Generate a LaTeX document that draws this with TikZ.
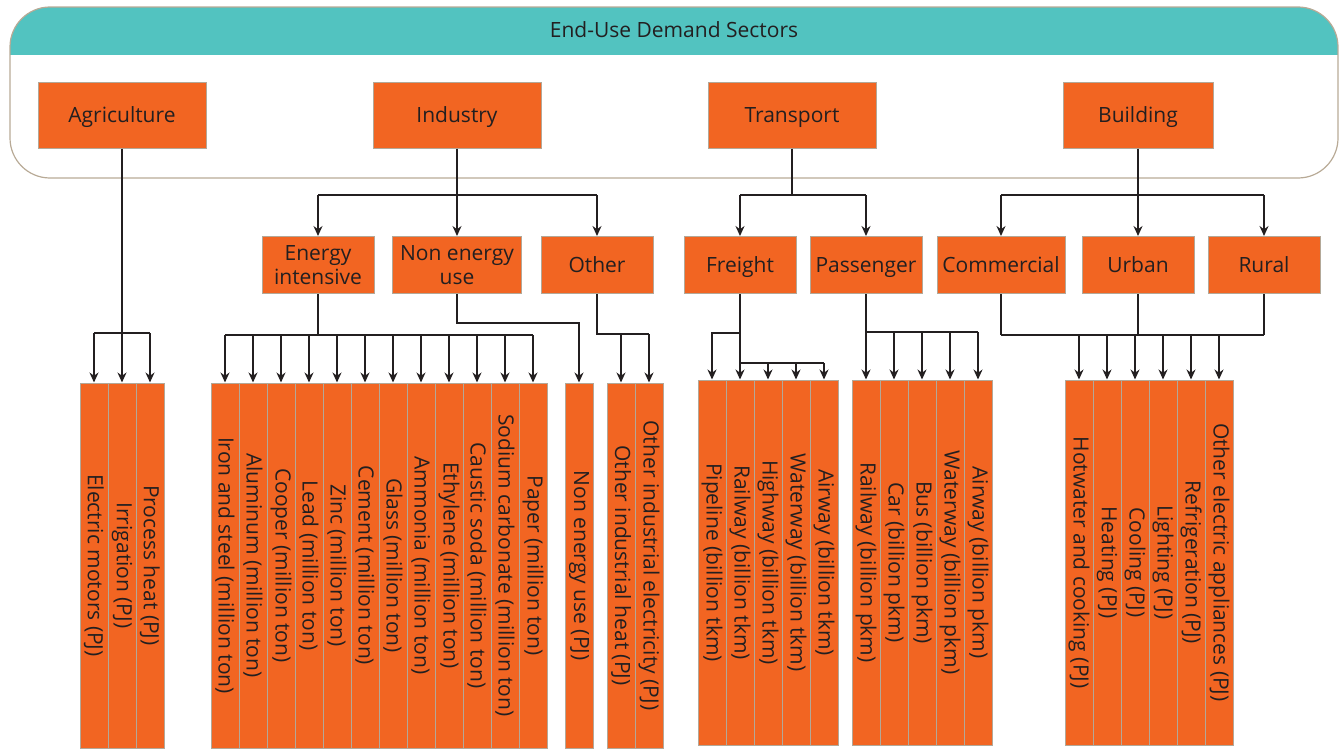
\documentclass[tikz,border=0pt]{standalone}
\usepackage{fontspec}
\setmainfont{Open Sans}
\usetikzlibrary{arrows.meta}
\definecolor{ink}{HTML}{231F20}
\definecolor{sectorfill}{HTML}{F26522}
\definecolor{boxline}{HTML}{B3A898}
\definecolor{headfill}{HTML}{52C3C0}
\definecolor{frameline}{HTML}{B8AA96}
\tikzset{>={Stealth[length=10pt,width=9pt]},
  every node/.style={font=\fontsize{21}{24}\selectfont,text=ink},
  boxbase/.style={draw=boxline,fill=sectorfill,line width=1pt,inner sep=0pt},
  sector/.style={boxbase,minimum width=168pt,minimum height=65pt,text height=15pt,text depth=0pt},
  branch/.style={boxbase,minimum width=112pt,minimum height=57pt,text height=15pt,text depth=0pt},
  tworow/.style={boxbase,minimum width=112pt,minimum height=57pt,align=center},
  leaf/.style={boxbase,rotate=-90,minimum width=365pt,minimum height=28pt},
  wire/.style={draw=ink,line width=1.3pt},
  link/.style={wire,->}}

\begin{document}
\begin{tikzpicture}[x=1pt,y=-1pt]
\useasboundingbox (0,0) rectangle (1340,749);
% frame with heading
\begin{scope}
\clip[rounded corners=40pt] (10,7) rectangle (1338,178);
\fill[headfill] (10,7) rectangle (1338,55);
\end{scope}
\draw[frameline,line width=1.2pt,rounded corners=40pt] (10,7) rectangle (1338,178);
\node (title) at (674,30) {End-Use Demand Sectors};

% sectors
\node[sector] (agri) at (122,115.5) {Agriculture};
\node[sector] (ind) at (457,115.5) {Industry};
\node[sector] (trans) at (792,115.5) {Transport};
\node[sector,minimum width=150pt] (bldg) at (1138,115.5) {Building};

% branches
\node[tworow] (energy) at (318,265) {Energy\\intensive};
\node[tworow,minimum width=129pt] (nonen) at (457,265) {Non energy\\use};
\node[branch] (other) at (597,265) {Other};
\node[branch] (freight) at (740,265) {Freight};
\node[branch] (pass) at (866,265) {Passenger};
\node[branch,minimum width=128pt] (comm) at (1001,265) {Commercial};
\node[branch] (urban) at (1138,265) {Urban};
\node[branch] (rural) at (1264,265) {Rural};

% leaves
\foreach \t [count=\i] in {Electric motors (PJ),Irrigation (PJ),Process heat (PJ)}
  \node[leaf] (agr\i) at ({66+28*\i},565.5) {\t};
\foreach \t [count=\i] in {Iron and steel (million ton),Aluminum (million ton),Cooper (million ton),Lead (million ton),Zinc (million ton),Cement (million ton),Glass (million ton),Ammonia (million ton),Ethylene (million ton),Caustic soda (million ton),Sodium carbonate (million ton),Paper (million ton)}
  \node[leaf] (ei\i) at ({197+28*\i},565.5) {\t};
\node[leaf] (neu) at (579,565.5) {Non energy use (PJ)};
\foreach \t [count=\i] in {Other industrial heat (PJ),Other industrial electricity (PJ)}
  \node[leaf] (oth\i) at ({593+28*\i},565.5) {\t};
\foreach \t [count=\i] in {Pipeline (billion tkm),Railway (billion tkm),Highway (billion tkm),Waterway (billion tkm),Airway (billion tkm)}
  \node[leaf] (fr\i) at ({684+28*\i},562.5) {\t};
\foreach \t [count=\i] in {Railway (billion pkm),Car (billion pkm),Bus (billion pkm),Waterway (billion pkm),Airway (billion pkm)}
  \node[leaf] (ps\i) at ({838+28*\i},562.5) {\t};
\foreach \t [count=\i] in {Hotwater and cooking (PJ),Heating (PJ),Cooling (PJ),Lighting (PJ),Refrigeration (PJ),Other electric appliances (PJ)}
  \node[leaf] (bl\i) at ({1051+28*\i},562.5) {\t};

% bus levels
\coordinate (topbus) at (0,195);
\coordinate (agribus) at (0,333);
\coordinate (eibus) at (0,335);
\coordinate (nebus) at (0,323);
\coordinate (obus) at (0,334);
\coordinate (frbus) at (0,333);
\coordinate (frbus2) at (0,363);
\coordinate (psbus) at (0,332);
\coordinate (blbus) at (0,335);

% agriculture
\draw[link] (agri.south) -- (agr2.west);
\draw[wire] (agr1.west |- agribus) -- (agr3.west |- agribus);
\foreach \i in {1,3} \draw[link] (agr\i.west |- agribus) -- (agr\i.west);

% industry
\draw[wire] (energy.north |- topbus) -- (other.north |- topbus);
\draw[link] (ind.south) -- (nonen.north);
\foreach \n in {energy,other} \draw[link] (\n.north |- topbus) -- (\n.north);
\draw[wire] (energy.south) -- (energy.south |- eibus);
\draw[wire] (ei1.west |- eibus) -- (ei12.west |- eibus);
\foreach \i in {1,...,12} \draw[link] (ei\i.west |- eibus) -- (ei\i.west);
\draw[link] (nonen.south) |- (neu.west |- nebus) -- (neu.west);
\draw[wire] (other.south) |- (oth2.west |- obus);
\foreach \i in {1,2} \draw[link] (oth\i.west |- obus) -- (oth\i.west);

% transport
\draw[wire] (trans.south) -- (trans.south |- topbus);
\draw[wire] (freight.north |- topbus) -- (pass.north |- topbus);
\foreach \n in {freight,pass} \draw[link] (\n.north |- topbus) -- (\n.north);
\draw[link] (freight.south) |- (fr1.west |- frbus) -- (fr1.west);
\draw[link] (freight.south) -- (fr2.west);
\draw[wire] (fr2.west |- frbus2) -- (fr5.west |- frbus2);
\foreach \i in {3,4,5} \draw[link] (fr\i.west |- frbus2) -- (fr\i.west);
\draw[link] (pass.south) -- (ps1.west);
\draw[wire] (ps1.west |- psbus) -- (ps5.west |- psbus);
\foreach \i in {2,...,5} \draw[link] (ps\i.west |- psbus) -- (ps\i.west);

% building
\draw[wire] (comm.north |- topbus) -- (rural.north |- topbus);
\draw[link] (bldg.south) -- (urban.north);
\foreach \n in {comm,rural} \draw[link] (\n.north |- topbus) -- (\n.north);
\foreach \n in {comm,urban,rural} \draw[wire] (\n.south) -- (\n.south |- blbus);
\draw[wire] (comm.south |- blbus) -- (rural.south |- blbus);
\foreach \i in {1,...,6} \draw[link] (bl\i.west |- blbus) -- (bl\i.west);
\end{tikzpicture}
\end{document}
